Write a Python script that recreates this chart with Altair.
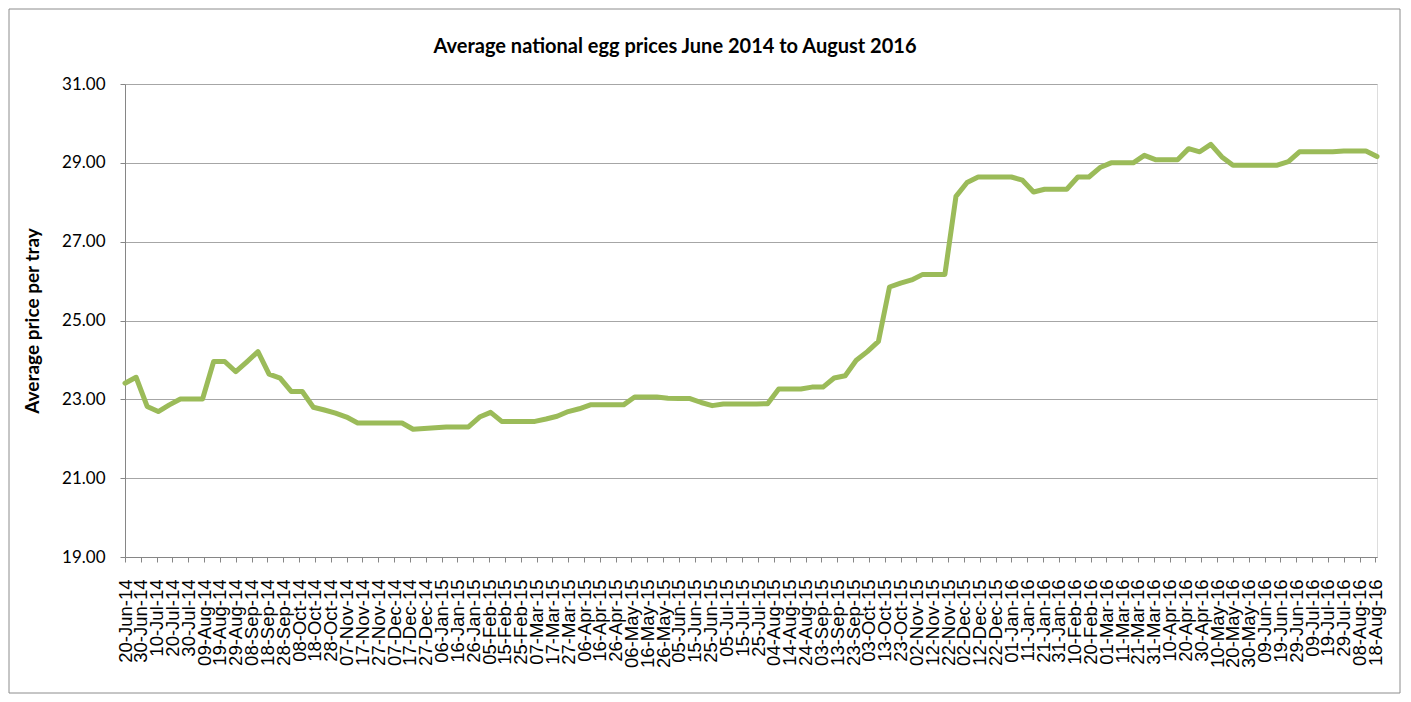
import altair as alt
import pandas as pd

# Weekly average national egg prices
start_date = "2014-06-20"
prices = [
    23.41, 23.56, 22.82, 22.69, 22.86, 23.01, 23.01, 23.01, 23.96, 23.96,
    23.70, 23.95, 24.21, 23.64, 23.54, 23.20, 23.20, 22.80, 22.73, 22.65,
    22.55, 22.40, 22.40, 22.40, 22.40, 22.40, 22.24, 22.26, 22.28, 22.30,
    22.30, 22.30, 22.55, 22.67, 22.44, 22.44, 22.44, 22.44, 22.50, 22.57,
    22.69, 22.76, 22.86, 22.86, 22.86, 22.86, 23.06, 23.06, 23.06, 23.03,
    23.02, 23.02, 22.92, 22.84, 22.88, 22.88, 22.88, 22.88, 22.89, 23.26,
    23.26, 23.26, 23.31, 23.31, 23.54, 23.60, 23.99, 24.21, 24.47, 25.85,
    25.95, 26.03, 26.17, 26.17, 26.17, 28.15, 28.50, 28.64, 28.64, 28.64,
    28.64, 28.56, 28.26, 28.33, 28.33, 28.33, 28.64, 28.64, 28.88, 29.00,
    29.00, 29.00, 29.19, 29.08, 29.08, 29.08, 29.36, 29.28, 29.47, 29.15,
    28.94, 28.94, 28.94, 28.94, 28.94, 29.03, 29.28, 29.28, 29.28, 29.28,
    29.30, 29.30, 29.30, 29.16,
]
dates = pd.date_range(start_date, periods=len(prices), freq="7D").strftime("%Y-%m-%d").tolist()

tick_end = "2016-08-18"
tick_ms = [int(t.value // 10**6) for t in pd.date_range(start_date, tick_end, freq="10D")]
y_ticks = [19, 21, 23, 25, 27, 29, 31]

title_text = "Average national egg prices June 2014 to  August 2016"
y_title = "Average price per tray"

df = pd.DataFrame({"date": dates, "price": prices})
x_domain = [int(pd.Timestamp(dates[0]).value // 10**6), int(pd.Timestamp(dates[-1]).value // 10**6)]

AXIS_GREY = "#868686"

line = alt.Chart(df).mark_line(
    color="#9BBB59", strokeWidth=5, strokeJoin="round", strokeCap="round"
).encode(
    x=alt.X(
        "date:T",
        scale=alt.Scale(type="utc", domain=x_domain, nice=False),
        axis=alt.Axis(
            values=tick_ms,
            labelExpr="utcFormat(datum.value, '%d-%b-%y')",
            labelAngle=270, labelAlign="right", labelBaseline="middle",
            labelFont="Liberation Sans", labelFontSize=18.5, labelColor="black",
            labelPadding=17, labelOverlap=False, labelFlush=False,
            tickSize=5, tickColor=AXIS_GREY, domainColor=AXIS_GREY,
            grid=False, title=None,
        ),
    ),
    y=alt.Y(
        "price:Q",
        scale=alt.Scale(domain=[19, 31], nice=False, zero=False),
        axis=alt.Axis(
            values=y_ticks, format=".2f",
            labelFont="Lato", labelFontSize=17, labelColor="black", labelPadding=15,
            tickSize=5, tickColor=AXIS_GREY, domainColor=AXIS_GREY,
            grid=True, gridColor="#A6A6A6", gridWidth=1,
            title=y_title, titleFont="Lato", titleFontSize=19, titleFontWeight="bold",
            titleColor="black", titlePadding=19,
        ),
    ),
)

frame = alt.Chart(pd.DataFrame({"a": [0]})).mark_rect(
    fillOpacity=0, stroke="#8C8C8C", strokeWidth=1
).encode(
    x=alt.value(-116), x2=alt.value(1275), y=alt.value(-75), y2=alt.value(609)
)

chart = alt.layer(line, frame).properties(
    width=1252,
    height=473,
    autosize=alt.AutoSizeParams(type="none"),
    padding={"left": 117, "top": 76, "right": 26, "bottom": 137},
    title=alt.TitleParams(
        text=title_text, font="Lato", fontSize=20, fontWeight="bold", color="black",
        anchor="middle", frame="group", offset=27, dx=-76, dy=75,
    ),
).configure_view(strokeWidth=0).configure(background="white")

chart.save("out.html", embed_options={"renderer": "svg", "actions": False})
